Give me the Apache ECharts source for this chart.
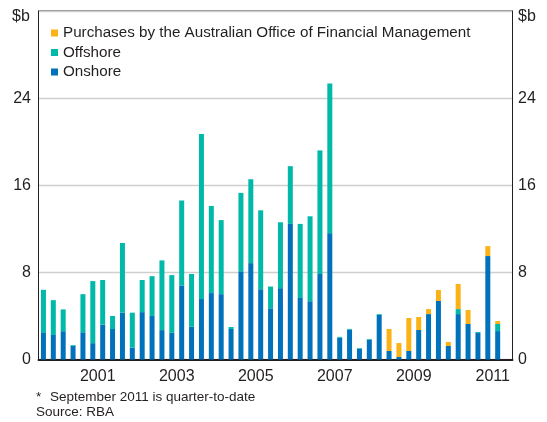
<!DOCTYPE html>
<html lang="en">
<head>
    <meta charset="UTF-8">
    <title>Bond purchases</title>
    <script src="https://cdn.jsdelivr.net/npm/echarts@6/dist/echarts.min.js"></script>
    <style>
        html, body { margin: 0; padding: 0; background: #fff; }
        #chart { width: 547px; height: 422px; }
    </style>
</head>
<body>
    <div id="chart"></div>
    <script>
        // quarters 2000 Q1 .. 2011 Q4 (last one empty)
        var years = ['2000', '2001', '2002', '2003', '2004', '2005', '2006', '2007', '2008', '2009', '2010', '2011'];
        var quarters = [];
        years.forEach(function (y) {
            for (var q = 1; q <= 4; q++) quarters.push(y + ' Q' + q);
        });

        // $b
        var onshore = [2.5, 2.25, 2.6, 1.27, 2.5, 1.5, 3.2, 2.8, 4.3, 1.1, 4.35, 4.0,
            2.7, 2.45, 6.8, 3.0, 5.55, 6.1, 6.0, 2.8, 8.1, 8.85, 6.45, 4.7,
            6.55, 12.45, 5.65, 5.35, 7.85, 11.6, 2.0, 2.75, 1.0, 1.82, 4.1, 0.78,
            0.23, 0.78, 2.71, 4.17, 5.37, 1.24, 4.17, 3.26, 2.43, 9.5, 2.61];
        var offshore = [3.9, 3.2, 2.0, 0.06, 3.5, 5.7, 4.1, 1.2, 6.4, 3.2, 2.95, 3.65,
            6.4, 5.3, 7.8, 4.85, 15.15, 8.0, 6.8, 0.18, 7.2, 7.7, 7.25, 2.0,
            6.05, 5.3, 6.8, 7.8, 11.35, 13.75, 0.08, 0.06, 0.05, 0.06, 0.07, 0,
            0, 0, 0, 0, 0, 0, 0.46, 0, 0.09, 0, 0.65];
        var aofm = [0, 0, 0, 0, 0, 0, 0, 0, 0, 0, 0, 0,
            0, 0, 0, 0, 0, 0, 0, 0, 0, 0, 0, 0,
            0, 0, 0, 0, 0, 0, 0, 0, 0, 0, 0, 2.02,
            1.28, 3.03, 1.19, 0.46, 1.01, 0.37, 2.3, 1.28, 0, 0.91, 0.27];

        var font = 'Liberation Sans, Arial, sans-serif';
        var ink = '#231f20';

        var chart = echarts.init(document.getElementById('chart'));
        chart.setOption({
            animation: false,
            textStyle: { fontFamily: font, color: ink },
            grid: {
                left: 38.5, right: 34.5, top: 11, bottom: 62.5,
                show: true, borderColor: ink, borderWidth: 1
            },
            legend: {
                orient: 'vertical',
                left: 51, top: 25.5,
                padding: 0,
                itemWidth: 7, itemHeight: 7,
                itemGap: 4.5,
                icon: 'rect',
                textStyle: { fontSize: 15.2, lineHeight: 15, color: ink, fontFamily: font },
                data: ['Purchases by the Australian Office of Financial Management', 'Offshore', 'Onshore']
            },
            xAxis: [{
                type: 'category',
                data: quarters,
                position: 'bottom',
                axisLine: { lineStyle: { color: ink, width: 2 } },
                axisTick: { inside: true, length: 6, interval: 3, lineStyle: { color: '#555', width: 1 } },
                axisLabel: { show: false },
                splitLine: { show: false }
            }, {
                type: 'category',
                data: years,
                position: 'bottom',
                axisLine: { show: false },
                axisTick: { show: false },
                axisLabel: {
                    fontSize: 16, color: ink, margin: 9,
                    interval: function (i) { return i % 2 === 1; }
                },
                splitLine: { show: false }
            }],
            yAxis: [{
                type: 'value',
                position: 'left',
                min: 0, max: 32, interval: 8,
                axisLine: { show: true, lineStyle: { color: ink, width: 1 } },
                axisTick: { show: false },
                axisLabel: {
                    fontSize: 16, color: ink, margin: 7.5,
                    formatter: function (v) { return v === 32 ? '' : v; }
                },
                splitLine: { lineStyle: { color: '#cfcfcf', width: 1.3 } }
            }, {
                type: 'value',
                position: 'right',
                min: 0, max: 32, interval: 8,
                axisLine: { show: true, lineStyle: { color: ink, width: 1 } },
                axisTick: { show: false },
                axisLabel: {
                    fontSize: 16, color: ink, margin: 5.5,
                    formatter: function (v) { return v === 32 ? '' : v; }
                },
                splitLine: { show: false }
            }],
            graphic: [
                { type: 'text', left: 12, top: 9, style: { text: '$b', fontSize: 16, fill: ink, fontFamily: font } },
                { type: 'text', left: 518, top: 9, style: { text: '$b', fontSize: 16, fill: ink, fontFamily: font } },
                { type: 'text', left: 36, top: 390, style: { text: '*', fontSize: 13.5, fill: ink, fontFamily: font } },
                { type: 'text', left: 50, top: 390, style: { text: 'September 2011 is quarter-to-date', fontSize: 13.5, fill: ink, fontFamily: font } },
                { type: 'text', left: 36, top: 405, style: { text: 'Source: RBA', fontSize: 13.5, fill: ink, fontFamily: font } }
            ],
            series: [{
                name: 'Onshore',
                type: 'bar',
                stack: 'total',
                barWidth: 5,
                itemStyle: { color: '#0071bb' },
                data: onshore
            }, {
                name: 'Offshore',
                type: 'bar',
                stack: 'total',
                barWidth: 5,
                itemStyle: { color: '#00b9a9' },
                data: offshore
            }, {
                name: 'Purchases by the Australian Office of Financial Management',
                type: 'bar',
                stack: 'total',
                barWidth: 5,
                itemStyle: { color: '#fbb216' },
                data: aofm
            }]
        });
    </script>
</body>
</html>
